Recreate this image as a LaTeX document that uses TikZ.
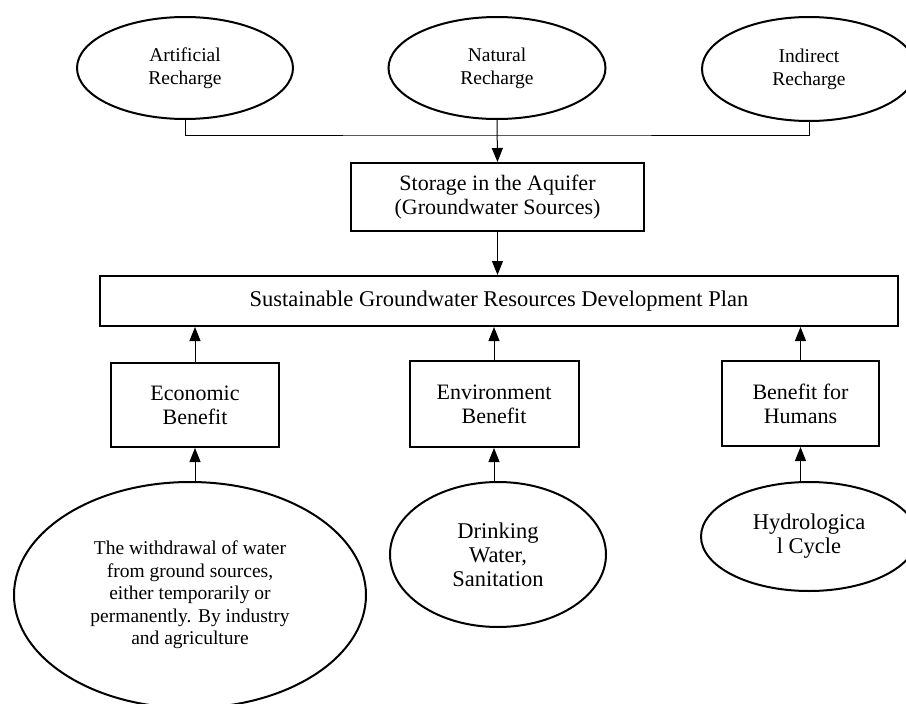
\documentclass[tikz,border=0pt]{standalone}
\usepackage{fontspec}
\setmainfont{Liberation Serif}
\usetikzlibrary{shapes.geometric,arrows.meta}
\tikzset{
  oval/.style={ellipse,draw,line width=2pt,inner sep=0pt,align=center},
  boxnode/.style={rectangle,draw,line width=2pt,inner sep=0pt,align=center},
  link/.style={line width=1pt},
  arrowlink/.style={line width=1pt,-{Triangle[length=14pt,width=11pt]}},
  ftop/.style={font=\fontsize{19.5}{23}\selectfont},
  fbox/.style={font=\fontsize{22}{24}\selectfont},
  fbig/.style={font=\fontsize{22.5}{24}\selectfont},
  fwd/.style={font=\fontsize{19.5}{22.5}\selectfont},
}
\begin{document}
\begin{tikzpicture}[x=1pt,y=-1pt]
\useasboundingbox (0,0) rectangle (906,704);
\clip (0,0) rectangle (906,704);
\fill[white] (0,0) rectangle (906,704);
% top ellipses
\node[oval,ftop,minimum width=216pt,minimum height=102pt] (art) at (185,68) {Artificial\\Recharge};
\node[oval,ftop,minimum width=217pt,minimum height=102pt] (nat) at (497,68) {Natural\\Recharge};
\node[oval,ftop,minimum width=214pt,minimum height=104pt] (ind) at (809,69) {Indirect\\Recharge};
\coordinate (j) at (497,135);
% storage
\node[boxnode,fbox,minimum width=293pt,minimum height=68pt] (store) at (497.5,197) {Storage in the Aquifer\\(Groundwater Sources)};
% plan
\node[boxnode,fbig,minimum width=798pt,minimum height=50pt] (plan) at (499,301) {Sustainable Groundwater Resources Development Plan};
% benefit boxes
\node[boxnode,fbox,minimum width=168pt,minimum height=84pt] (eco) at (195,405) {Economic\\Benefit};
\node[boxnode,fbox,minimum width=169pt,minimum height=86pt] (env) at (494,404) {Environment\\Benefit};
\node[boxnode,fbox,minimum width=157pt,minimum height=85pt] (hum) at (800.5,403.5) {Benefit for\\Humans};
% bottom ellipses
\node[oval,fwd,minimum width=352pt,minimum height=226pt] (wd) at (190,595) {The withdrawal of water\\from ground sources,\\either temporarily or\\permanently. By industry\\and agriculture};
\node[oval,fbig,minimum width=216pt,minimum height=145pt] (drink) at (498,554.5) {Drinking\\Water,\\Sanitation};
\node[oval,fbig,minimum width=216pt,minimum height=109pt] (hyd) at (809,536.5) {Hydrologica\\l Cycle};
% connectors top
\draw[link] (art.south) |- (j) -| (ind.south);
\draw[arrowlink] (nat.south) -- (store.north);
\draw[arrowlink] (store.south) -- (store.south |- plan.north);
% benefit to plan
\draw[arrowlink] (eco.north) -- (eco.north |- plan.south);
\draw[arrowlink] (env.north) -- (env.north |- plan.south);
\draw[arrowlink] (hum.north) -- (hum.north |- plan.south);
% sources to benefits
\draw[arrowlink] (wd.north -| eco.south) -- (eco.south);
\draw[arrowlink] (drink.north -| env.south) -- (env.south);
\draw[arrowlink] (hyd.north -| hum.south) -- (hum.south);
\end{tikzpicture}
\end{document}
